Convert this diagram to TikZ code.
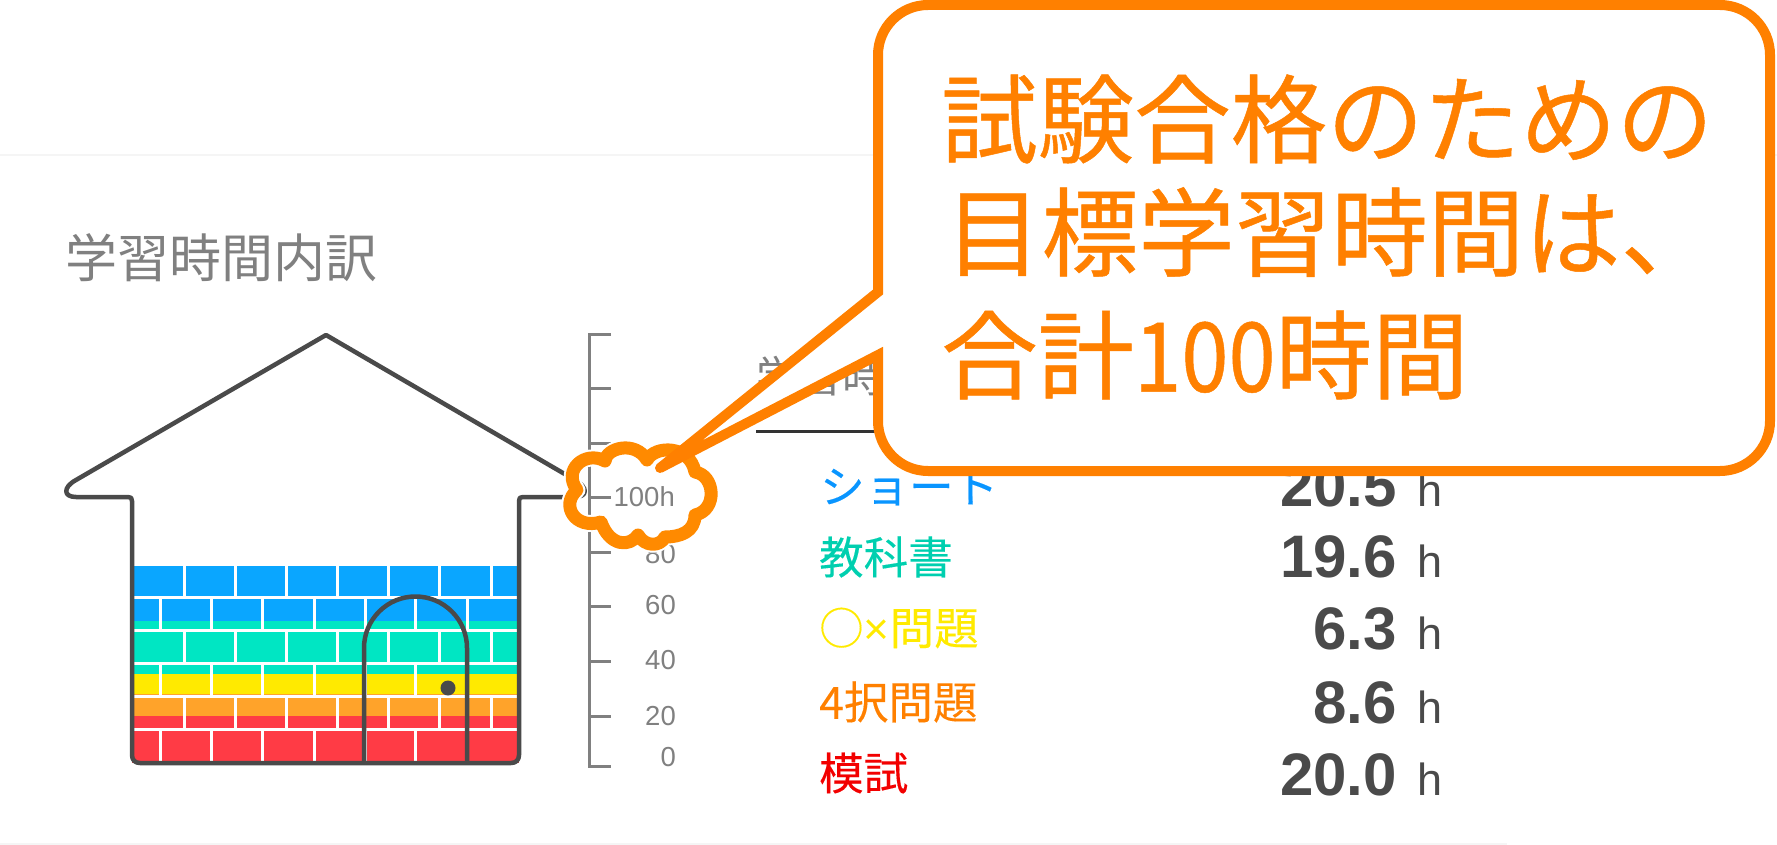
\documentclass[tikz,border=0pt]{standalone}
\usepackage{fontspec}
\setmainfont{Noto Sans CJK JP}
\newfontfamily\heavyfont[FakeBold=0.5]{Noto Sans CJK JP}
\newfontfamily\labelfont[FakeBold=0.25]{Noto Sans CJK JP}
\newfontfamily\valuefont{Liberation Sans}
\definecolor{wallgray}{HTML}{4A4A4A}
\definecolor{axisgray}{HTML}{808080}
\definecolor{calloutorange}{HTML}{FF8000}
\definecolor{cloudorange}{HTML}{FF8A00}
\definecolor{bandblue}{HTML}{0AA6FF}
\definecolor{bandteal}{HTML}{00E6C3}
\definecolor{bandyellow}{HTML}{FFEA00}
\definecolor{bandorange}{HTML}{FFA32A}
\definecolor{bandred}{HTML}{FF3B45}
\tikzset{
	brickline/.style={white, line width=3},
	tablelabel/.style={anchor=west, font=\labelfont\fontsize{44.5}{44.5}\selectfont},
	tablevalue/.style={anchor=base east, text=wallgray, font=\valuefont\bfseries\fontsize{60}{60}\selectfont},
	tableunit/.style={anchor=base west, text=wallgray, font=\valuefont\fontsize{45}{45}\selectfont},
	ticklabel/.style={anchor=east, text=axisgray, font=\valuefont\fontsize{27.5}{27.5}\selectfont},
	callouttext/.style={anchor=west, text=calloutorange, font=\heavyfont\fontsize{96.5}{97}\selectfont},
}
\begin{document}
\begin{tikzpicture}[x=1pt, y=-1pt, inner sep=0pt]
	\useasboundingbox (0,0) rectangle (1777,845);
	\draw[black!4, line width=2] (0,155) -- (1777,155);
	\draw[black!4, line width=2] (0,844) -- (1507,844);
	\node[anchor=west, text=axisgray, font=\fontsize{52}{52}\selectfont] (title) at (65,258) {学習時間内訳};

	% coloured bands of the wall
	\fill[bandblue] (132,566) rectangle (519,621);
	\fill[bandteal] (132,621) rectangle (519,674);
	\fill[bandyellow] (132,674) rectangle (519,694);
	\fill[bandorange] (132,694) rectangle (519,716);
	\fill[bandred] (132,716) rectangle (519,763);

	% bricks
	\foreach \y in { 597, 630, 663, 696, 729 }
		\draw[brickline] (132,\y) -- (519,\y);
	\foreach \y/\yend in { 566/597, 630/663, 696/729 }
		\foreach \x in { 184, 235, 286, 337, 388, 439, 491 }
			\draw[brickline] (\x,\y) -- (\x,\yend);
	\foreach \y/\yend in { 597/630, 663/696, 729/763 }
		\foreach \x in { 160, 211, 262, 314, 365, 415, 467 }
			\draw[brickline] (\x,\y) -- (\x,\yend);

	% door
	\draw[wallgray, line width=4.5] (364,763) -- (364,648) arc[start angle=180, end angle=360, radius=51.5] -- (467,763);
	\fill[wallgray] (448,688) circle (7.5);

	% house outline
	\draw[wallgray, line width=4.5, line join=round]
		(326,335) -- (76,480) .. controls (63,487) and (63,497) .. (76,497) -- (128,497)
		.. controls (131,497) and (132,498) .. (132,501) -- (132,755)
		.. controls (132,760) and (135,763) .. (140,763) -- (511,763)
		.. controls (516,763) and (519,760) .. (519,755) -- (519,501)
		.. controls (519,498) and (520,497) .. (523,497) -- (575,497)
		.. controls (588,497) and (588,487) .. (575,480) -- cycle;

	% axis
	\draw[axisgray, line width=3] (611,334) -- (589,334) -- (589,766) -- (611,766);
	\foreach \y in { 388, 443, 497, 552, 606, 661, 716 }
		\draw[axisgray, line width=3] (589,\y) -- (611,\y);
	\foreach \y/\ytext in { 554/80, 605/60, 660/40, 716/20, 757/0 }
		\node[ticklabel] (tick\ytext) at (676,\y) {\ytext};

	% table
	\node[anchor=base west, text=axisgray, font=\fontsize{43}{43}\selectfont] (header) at (756,392) {学習時間};
	\draw[black!80, line width=3] (756,431) -- (1440,431);
	\node[tablelabel, text=bandblue!90!blue] (short) at (820,487) {ショート};
	\node[tablelabel, text=bandteal!90!black] (textbook) at (819,557) {教科書};
	\node[tablelabel, text=bandyellow] (quiz) at (819,628) {○{\valuefont ×}問題};
	\node[tablelabel, text=calloutorange] (choice) at (819,702) {4択問題};
	\node[tablelabel, text=red!95!black] (mock) at (819,773) {模試};
	\foreach \y/\val in { 506/20.5, 577/19.6, 649/6.3, 723/8.6, 795/20.0 } {
		\node[tablevalue] (val\y) at (1397,\y) {\val};
		\node[tableunit] (unit\y) at (1417,\y) {h};
	}

	% cloud round the 100h mark
	\def\cloudpath{(605,461) .. controls (606,448) and (635,440) .. (647,460)
		.. controls (655,445) and (690,445) .. (695,472)
		.. controls (715,475) and (718,510) .. (695,515)
		.. controls (695,532) and (680,537) .. (665,537)
		.. controls (660,547) and (645,547) .. (638,535)
		.. controls (630,547) and (610,547) .. (601,522)
		.. controls (575,530) and (560,505) .. (577,490)
		.. controls (562,470) and (585,450) .. (605,461) -- cycle}
	\draw[white, line width=17, line join=round] \cloudpath;
	\draw[cloudorange, line width=13, line join=round] \cloudpath;
	\node[ticklabel] (mark) at (675,497) {100h};
	\draw[axisgray, line width=3] (589,467) -- (589,513) (589,497) -- (611,497);

	% callout
	\coordinate (tip) at (660,468);
	\filldraw[fill=white, draw=calloutorange, line width=10, miter limit=5]
		(878,292) [rounded corners=50] -- (878,5) -- (1770,5) -- (1770,471) -- (878,471) [sharp corners] -- (878,355) -- (tip) -- cycle;
	\fill[calloutorange] (tip) circle (5);
	\node[callouttext] (line1) at (941,119) {試験合格のための};
	\node[callouttext] (line2) at (945,232) {目標学習時間は、};
	\node[callouttext] (line3) at (941,355) {合計\scalebox{0.88}[1]{100}時間};
\end{tikzpicture}
\end{document}
